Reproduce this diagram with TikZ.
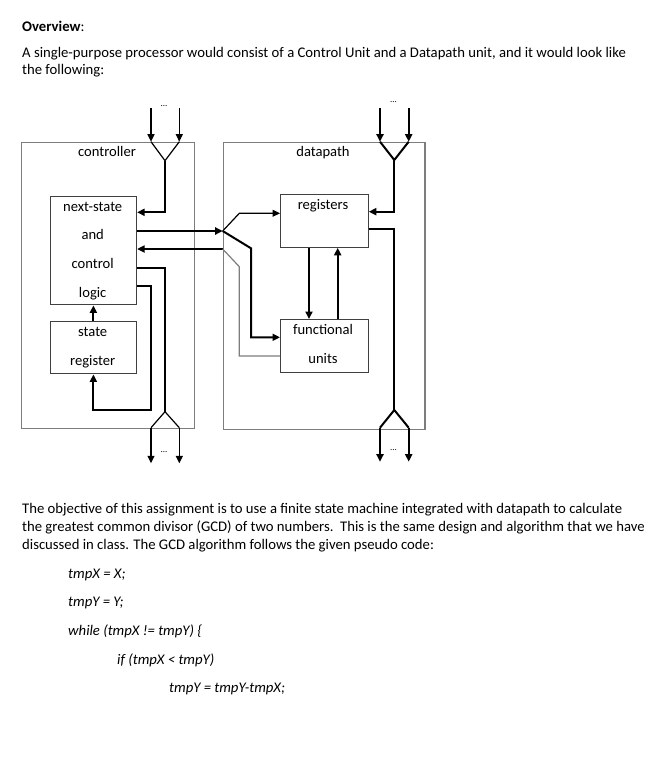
\documentclass[tikz,border=0pt]{standalone}
\usepackage{fontspec}
\setmainfont{Carlito}
\usetikzlibrary{arrows.meta}
\definecolor{boxgray}{RGB}{125,125,125}
\begin{document}
\begin{tikzpicture}[x=1pt,y=-1pt,
  txt/.style={anchor=base west,inner sep=0pt,font=\fontsize{14.7}{18}\selectfont},
  lbl/.style={anchor=base,inner sep=0pt,font=\fontsize{14.6}{17}\selectfont},
  dots/.style={anchor=base,inner sep=0pt,font=\fontsize{9}{9}\selectfont},
  outerbox/.style={draw=boxgray,line width=1.3pt,inner sep=0pt,anchor=north west},
  innerbox/.style={draw=black!75,line width=1.1pt,inner sep=0pt,anchor=north west},
  tk/.style={line width=2pt,black},
  tn/.style={line width=1.2pt,black},
  tg/.style={line width=1.2pt,boxgray},
  arr/.style={-{Triangle[length=7.5pt,width=7pt]}},
]
\useasboundingbox (0,0) rectangle (665,772);
% ---- text ----
\node[txt] (ov) at (22,31) {\textbf{Overview}:};
\node[txt] (p1a) at (22,57) {A single-purpose processor would consist of a Control Unit and a Datapath unit, and it would look like};
\node[txt] (p1b) at (22,74) {the following:};
\node[txt] (p2a) at (22,513.5) {The objective of this assignment is to use a finite state machine integrated with datapath to calculate};
\node[txt] (p2b) at (22,531.5) {the greatest common divisor (GCD) of two numbers.\ \ This is the same design and algorithm that we have};
\node[txt] (p2c) at (22,549.5) {discussed in class. The GCD algorithm follows the given pseudo code:};
\node[txt] (c1) at (68,578) {\itshape tmpX = X;};
\node[txt] (c2) at (68,606.5) {\itshape tmpY = Y;};
\node[txt] (c3) at (68,635) {\itshape while (tmpX != tmpY) \{};
\node[txt] (c4) at (117,664) {\itshape if (tmpX < tmpY)};
\node[txt] (c5) at (169,692) {\itshape tmpY = tmpY-tmpX;};
% ---- boxes ----
\node[outerbox,minimum width=173.3pt,minimum height=286.3pt] (ctrl) at (20.7,141.7) {};
\node[outerbox,minimum width=201.6pt,minimum height=286.8pt] (dp) at (222.7,141.7) {};
\node[innerbox,minimum width=86.3pt,minimum height=108.3pt] (nsl) at (49.7,196) {};
\node[innerbox,minimum width=86.3pt,minimum height=52.3pt] (sr) at (49.7,321) {};
\node[innerbox,minimum width=87.7pt,minimum height=52.7pt] (reg) at (280,194) {};
\node[innerbox,minimum width=87.7pt,minimum height=52.7pt] (fu) at (280,319) {};
% ---- labels ----
\node[lbl] (lctrl) at (107,156.5) {controller};
\node[lbl] (ldp) at (323,156.5) {datapath};
\node[lbl] (l1) at (92.7,211.3) {next-state};
\node[lbl] (l2) at (92.7,239) {and};
\node[lbl] (l3) at (92.7,268) {control};
\node[lbl] (l4) at (92.7,297) {logic};
\node[lbl] (l5) at (92.7,336.3) {state};
\node[lbl] (l6) at (92.7,365.3) {register};
\node[lbl] (l7) at (323,209) {registers};
\node[lbl] (l8) at (323,334) {functional};
\node[lbl] (l9) at (323,363) {units};
\node[dots] (d1) at (164,106) {...};
\node[dots] (d2) at (164,452) {...};
\node[dots] (d3) at (393.5,102) {...};
\node[dots] (d4) at (393.5,450) {...};
% ---- coordinates ----
\coordinate (ci1t) at (151,108);
\coordinate (ci2t) at (179.3,108);
\coordinate (ci1) at (151,141.7);
\coordinate (ci2) at (179.3,141.7);
\coordinate (cap) at (165,160.7);
\coordinate (cbap) at (165,411.7);
\coordinate (co1) at (151,427.7);
\coordinate (co2) at (179.3,427.7);
\coordinate (co1b) at (151,463.3);
\coordinate (co2b) at (179.3,463.3);
\coordinate (di1t) at (380,107.7);
\coordinate (di2t) at (408.7,107.7);
\coordinate (di1) at (380,141.7);
\coordinate (di2) at (408.7,141.7);
\coordinate (dap) at (394.3,160);
\coordinate (dbap) at (394.3,410);
\coordinate (do1) at (380,427.7);
\coordinate (do2) at (408.7,427.7);
\coordinate (do1b) at (380,461.7);
\coordinate (do2b) at (408.7,461.7);
\coordinate (fan) at (222.7,231);
\coordinate (fanb) at (222.7,249);
\coordinate (loopx) at (150.7,410);
\coordinate (fa) at (239.3,213.3);
\coordinate (fb) at (251,248.3);
\coordinate (fc) at (239.3,266.7);
% ---- controller wiring ----
\draw[tn,arr] (ci1t) -- (ci1);
\draw[tn,arr] (ci2t) -- (ci2);
\draw[tn] (ci1) -- (cap) -- (ci2);
\draw[tk,arr] (cap) |- (nsl.east |- 0,212.3);
\draw[tk,arr] (nsl.east |- fan) -- (fan);
\draw[tk,arr] (fanb) -- (nsl.east |- fanb);
\draw[tk] (nsl.east |- 0,267.7) -| (cbap);
\draw[tn] (co1) -- (cbap) -- (co2);
\draw[tn,arr] (co1) -- (co1b);
\draw[tn,arr] (co2) -- (co2b);
\draw[tk,arr] (nsl.east |- 0,285.7) -| (loopx) -| (sr.south);
\draw[tk,arr] (sr.north) -- (nsl.south);
% ---- datapath wiring ----
\draw[tk,arr] (di1t) -- (di1);
\draw[tk,arr] (di2t) -- (di2);
\draw[tk] (di1) -- (dap) -- (di2);
\draw[tk,arr] (dap) |- (reg.east |- 0,211.7);
\draw[tk] (reg.east |- 0,229.3) -| (dbap);
\draw[tk] (do1) -- (dbap) -- (do2);
\draw[tk,arr] (do1) -- (do1b);
\draw[tk,arr] (do2) -- (do2b);
\draw[tn,arr] (fan) -- (fa) -- (reg.west |- fa);
\draw[tk,arr] (fan) -- (fb) |- (fu.west |- 0,337.3);
\draw[tg] (fu.west |- 0,356) -| (fc) -- (fanb);
\draw[tk,arr] (reg.south -| 309,0) -- (fu.north -| 309,0);
\draw[tk,arr] (fu.north -| 337.7,0) -- (reg.south -| 337.7,0);
\end{tikzpicture}
\end{document}
